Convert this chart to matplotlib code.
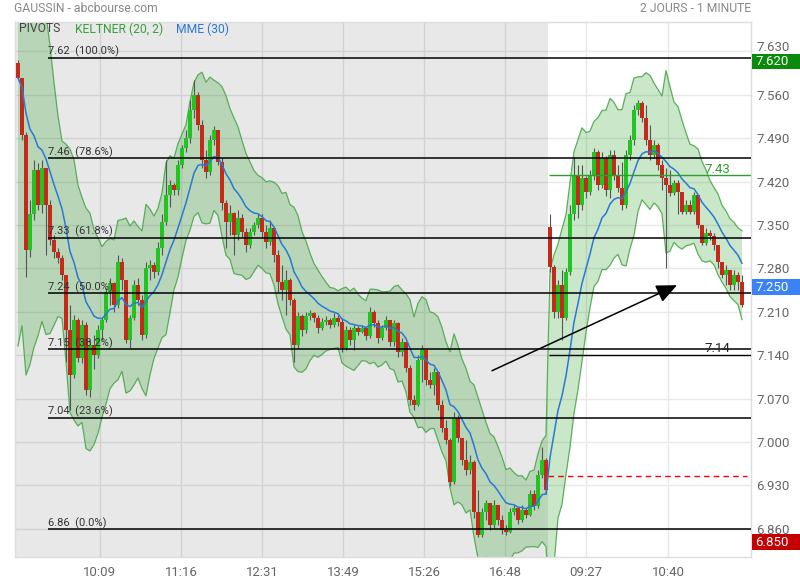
import numpy as np
import pandas as pd
import matplotlib
matplotlib.use('Agg')
import matplotlib.pyplot as plt
from matplotlib import transforms
from matplotlib.patches import Rectangle

plt.rcParams['font.family'] = ['Roboto', 'DejaVu Sans']

# ---------------- data ----------------
title_left = 'GAUSSIN - abcbourse.com'
title_right = '2 JOURS - 1 MINUTE'
legend_labels = ['PIVOTS', 'KELTNER (20, 2)', 'MME (30)']

prev_session_close = 7.40   # close of the session before the chart (sets the first band width)
day1_open0 = 7.612
day1_close = [7.587, 7.496, 7.310, 7.367, 7.439, 7.383, 7.442, 7.383, 7.326, 7.307,
              7.297, 7.270, 7.181, 7.108, 7.197, 7.136, 7.189, 7.084, 7.157, 7.141,
              7.181, 7.197, 7.242, 7.257, 7.221, 7.291, 7.262, 7.165, 7.200, 7.254,
              7.229, 7.173, 7.281, 7.286, 7.275, 7.313, 7.355, 7.399, 7.415, 7.407,
              7.447, 7.474, 7.491, 7.536, 7.560, 7.512, 7.455, 7.436, 7.487, 7.504,
              7.452, 7.386, 7.355, 7.370, 7.334, 7.362, 7.339, 7.318, 7.339, 7.350,
              7.362, 7.339, 7.323, 7.346, 7.302, 7.258, 7.246, 7.262, 7.229, 7.157,
              7.204, 7.181, 7.204, 7.208, 7.200, 7.184, 7.194, 7.197, 7.189, 7.200,
              7.194, 7.152, 7.181, 7.165, 7.184, 7.178, 7.184, 7.171, 7.210, 7.192,
              7.168, 7.184, 7.197, 7.162, 7.192, 7.146, 7.162, 7.120, 7.068, 7.060,
              7.133, 7.149, 7.100, 7.092, 7.113, 7.060, 7.023, 7.004, 6.936, 7.039,
              7.007, 6.971, 6.955, 6.968, 6.887, 6.850, 6.887, 6.902, 6.866, 6.899,
              6.875, 6.858, 6.855, 6.887, 6.894, 6.875, 6.891, 6.883, 6.916, 6.897,
              6.947, 6.971, 6.923]
day1_high = [7.616, 7.536, 7.500, 7.391, 7.455, 7.450, 7.455, 7.439, 7.391, 7.334,
             7.313, 7.302, 7.270, 7.221, 7.205, 7.200, 7.197, 7.194, 7.165, 7.173,
             7.189, 7.200, 7.249, 7.265, 7.258, 7.302, 7.297, 7.262, 7.205, 7.262,
             7.265, 7.237, 7.291, 7.294, 7.291, 7.323, 7.367, 7.455, 7.423, 7.418,
             7.455, 7.479, 7.504, 7.552, 7.584, 7.565, 7.520, 7.471, 7.496, 7.510,
             7.504, 7.458, 7.391, 7.383, 7.371, 7.375, 7.368, 7.346, 7.346, 7.355,
             7.367, 7.367, 7.350, 7.358, 7.342, 7.310, 7.286, 7.278, 7.265, 7.233,
             7.210, 7.207, 7.210, 7.213, 7.210, 7.205, 7.200, 7.204, 7.200, 7.208,
             7.205, 7.200, 7.187, 7.186, 7.189, 7.187, 7.189, 7.187, 7.217, 7.213,
             7.197, 7.189, 7.204, 7.197, 7.197, 7.194, 7.168, 7.157, 7.125, 7.076,
             7.141, 7.157, 7.149, 7.113, 7.120, 7.108, 7.068, 7.036, 7.007, 7.049,
             7.044, 7.004, 7.004, 6.979, 6.971, 6.923, 6.894, 6.907, 6.902, 6.907,
             6.899, 6.883, 6.866, 6.894, 6.899, 6.894, 6.899, 6.894, 6.923, 6.923,
             6.955, 6.992, 6.975]
day1_low = [7.584, 7.487, 7.266, 7.299, 7.358, 7.375, 7.370, 7.302, 7.318, 7.297,
            7.289, 7.262, 7.129, 7.052, 7.104, 7.129, 7.128, 7.076, 7.073, 7.117,
            7.136, 7.165, 7.194, 7.221, 7.210, 7.216, 7.246, 7.160, 7.152, 7.197,
            7.221, 7.165, 7.168, 7.262, 7.265, 7.270, 7.302, 7.350, 7.379, 7.399,
            7.399, 7.442, 7.468, 7.483, 7.523, 7.504, 7.442, 7.426, 7.431, 7.479,
            7.447, 7.375, 7.313, 7.334, 7.302, 7.326, 7.331, 7.307, 7.313, 7.334,
            7.346, 7.329, 7.313, 7.318, 7.291, 7.242, 7.229, 7.205, 7.221, 7.129,
            7.152, 7.171, 7.176, 7.197, 7.194, 7.176, 7.181, 7.189, 7.184, 7.186,
            7.187, 7.146, 7.149, 7.157, 7.149, 7.173, 7.176, 7.165, 7.168, 7.186,
            7.160, 7.165, 7.181, 7.155, 7.155, 7.137, 7.139, 7.113, 7.060, 7.052,
            7.058, 7.097, 7.092, 7.087, 7.076, 7.052, 7.016, 6.996, 6.929, 6.933,
            7.000, 6.963, 6.947, 6.949, 6.878, 6.846, 6.846, 6.875, 6.858, 6.862,
            6.866, 6.852, 6.850, 6.854, 6.883, 6.868, 6.871, 6.878, 6.881, 6.891,
            6.894, 6.942, 6.916]

day2_open0 = 7.347
day2_close = [7.283, 7.210, 7.254, 7.200, 7.275, 7.367, 7.431, 7.383, 7.426, 7.404,
              7.429, 7.468, 7.415, 7.458, 7.407, 7.463, 7.431, 7.410, 7.383, 7.463,
              7.487, 7.536, 7.547, 7.523, 7.487, 7.463, 7.479, 7.447, 7.426, 7.415,
              7.402, 7.418, 7.404, 7.371, 7.383, 7.371, 7.399, 7.350, 7.321, 7.337,
              7.333, 7.318, 7.291, 7.270, 7.278, 7.254, 7.270, 7.258, 7.221]
day2_high = [7.367, 7.286, 7.262, 7.278, 7.281, 7.383, 7.460, 7.447, 7.447, 7.429,
             7.439, 7.474, 7.471, 7.468, 7.462, 7.471, 7.471, 7.447, 7.452, 7.471,
             7.496, 7.544, 7.552, 7.550, 7.544, 7.512, 7.487, 7.483, 7.455, 7.442,
             7.439, 7.423, 7.423, 7.394, 7.391, 7.391, 7.403, 7.399, 7.350, 7.346,
             7.342, 7.337, 7.318, 7.291, 7.286, 7.278, 7.278, 7.275, 7.270]
day2_low = [7.275, 7.200, 7.200, 7.165, 7.197, 7.270, 7.358, 7.362, 7.375, 7.394,
            7.399, 7.423, 7.407, 7.410, 7.397, 7.394, 7.423, 7.404, 7.375, 7.378,
            7.455, 7.479, 7.528, 7.516, 7.479, 7.455, 7.458, 7.439, 7.407, 7.281,
            7.397, 7.399, 7.367, 7.367, 7.367, 7.367, 7.368, 7.346, 7.318, 7.318,
            7.326, 7.310, 7.281, 7.265, 7.254, 7.246, 7.246, 7.246, 7.218]

keltner_n, keltner_mult = 20, 2
mme_n = 30
minutes_per_candle = 2.6   # each drawn candle stands for a few one-minute bars

fib_high, fib_low = 7.62, 6.86
fib_ratios = [1.0, 0.786, 0.618, 0.5, 0.382, 0.236, 0.0]

pivot_values = [7.43, 7.14]
pivot_labels = ['7.43', '7.14']
prev_close = 6.945
tag_values = [7.620, 7.250, 6.850]

y_ticks = [6.860, 6.930, 7.000, 7.070, 7.140, 7.210, 7.280, 7.350, 7.420, 7.490, 7.560, 7.630]
x_tick_pos = [20.5, 40.75, 61, 81.25, 101.5, 121.75, 142, 162.5]
x_tick_labels = ['10:09', '11:16', '12:31', '13:49', '15:26', '16:48', '09:27', '10:40']

arrow_start = (118.5, 7.115)
arrow_end = (164.75, 7.253)

# ---------------- build series ----------------
close = np.array(day1_close + day2_close)
high = np.array(day1_high + day2_high)
low = np.array(day1_low + day2_low)
n1 = len(day1_close)
opn = np.r_[day1_open0, close[:-1]]
opn[n1] = day2_open0
x = np.arange(len(close))

cs = pd.Series(close)
mme = cs.ewm(span=mme_n / minutes_per_candle, adjust=False).mean()
mid = cs.ewm(span=keltner_n / minutes_per_candle, adjust=False).mean()
prev = np.r_[prev_session_close, close[:-1]]
tr = np.maximum.reduce([high - low, np.abs(high - prev), np.abs(low - prev)])
atr = pd.Series(tr).ewm(span=keltner_n / minutes_per_candle, adjust=False).mean()
upper = mid + keltner_mult * atr
lower = mid - keltner_mult * atr

# ---------------- figure ----------------
W, H = 800, 580
fig = plt.figure(figsize=(W / 100, H / 100), dpi=100)
ax = fig.add_axes([14.7 / W, 23.3 / H, (751 - 14.7) / W, 535 / H])
x_left, x_right = -0.82, 183.25
ax.set_xlim(x_left, x_right)
ax.set_ylim(6.815, 7.678)
ax.set_facecolor('white')

# day-1 shading
ax.axvspan(x_left, n1 - 0.5, color='#e8e8e8', lw=0, zorder=0)

# grid
for v in y_ticks:
    ax.hlines(v, x_left, n1 - 0.5, color='#d2d2d2', lw=1, zorder=0.5)
    ax.hlines(v, n1 - 0.5, x_right, color='#e8e8e8', lw=1, zorder=0.5)
for p in x_tick_pos:
    ax.axvline(p, color='#d2d2d2' if p < n1 else '#e8e8e8', lw=1, zorder=0.5)

# Keltner band
ax.fill_between(x, lower, upper, color='#2ca02c', alpha=0.25, lw=0, zorder=1)
ax.plot(x, upper, color='#4aa84a', lw=0.9, alpha=0.9, zorder=1.5)
ax.plot(x, lower, color='#4aa84a', lw=0.9, alpha=0.9, zorder=1.5)

# candles
up = close >= opn
ax.vlines(x, low, high, color='#555555', lw=0.8, zorder=3)
body_bottom = np.minimum(opn, close)
body_h = np.maximum(np.abs(close - opn), 0.0018)
colors = np.where(up, '#22c422', '#c42a1a')
ax.bar(x, body_h, bottom=body_bottom, width=0.8, color=colors, lw=0, zorder=3.5)

# MME
ax.plot(x, mme, color='#2a78d6', lw=1.1, zorder=4)

# Fibonacci pivots
for r in fib_ratios:
    lvl = fib_low + r * (fib_high - fib_low)
    ax.hlines(lvl, 7.5, x_right, color='black', lw=1.1, zorder=4.6)
    ax.annotate(f'{lvl:.2f}  ({r * 100:.1f}%)', (7.5, lvl), xytext=(0, 2),
                textcoords='offset points', fontsize=8, color='#333333',
                va='baseline', ha='left', zorder=5)

# day-2 pivot lines
pivot_colors = ['#2e9e2e', 'black']
pivot_text_colors = ['#2e9e2e', '#222222']
for v, lab, c, tc in zip(pivot_values, pivot_labels, pivot_colors, pivot_text_colors):
    ax.hlines(v, n1 - 0.3, x_right, color=c, lw=1.0, zorder=4.6)
    ax.annotate(lab, (171.5, v), xytext=(0, 2), textcoords='offset points',
                fontsize=9.5, color=tc, va='baseline', ha='left', zorder=5)
ax.hlines(prev_close, n1 - 0.5, 182.25, colors='red', linestyles=(0, (4, 3)), lw=1, zorder=4.6)

# arrow
ax.annotate('', xy=arrow_end, xytext=arrow_start,
            arrowprops=dict(arrowstyle='-|>,head_length=0.9,head_width=0.4',
                            color='black', lw=1.1, mutation_scale=14, shrinkA=0, shrinkB=0),
            zorder=6)

# axes styling
for s in ax.spines.values():
    s.set_color('#dddddd')
    s.set_linewidth(1)
ax.yaxis.tick_right()
ax.set_yticks(y_ticks)
ax.set_yticklabels([f'{v:.3f}' for v in y_ticks])
ax.tick_params(axis='y', length=0, pad=4, labelcolor='#666666', labelsize=9.5)
ax.set_xticks(x_tick_pos)
ax.set_xticklabels(x_tick_labels)
ax.tick_params(axis='x', length=0, pad=7, labelcolor='#666666', labelsize=9.5)

# lift the top tick label a little so it clears the green price tag
top_tick = ax.yaxis.get_major_ticks()[-1]
top_tick.label2.set_transform(top_tick.label2.get_transform() +
                              transforms.ScaledTranslation(0, 5 / 100, fig.dpi_scale_trans))

# price tags on the right
tag_colors = ['#0a8a0a', '#3b82f6', '#c40000']
tag_shift_px = [-4, 0, -7]
for v, c, dpx in zip(tag_values, tag_colors, tag_shift_px):
    tr_ = transforms.blended_transform_factory(fig.transFigure, ax.transData) + \
        transforms.ScaledTranslation(0, dpx / 100, fig.dpi_scale_trans)
    ax.add_patch(Rectangle((752 / W, v - 0.0125), 48 / W, 0.025, transform=tr_,
                           facecolor=c, edgecolor='none', clip_on=False, zorder=10))
    ax.text(755.5 / W, v, f'{v:.3f}', transform=tr_, color='white', fontsize=9.5,
            va='center', ha='left', clip_on=False, zorder=11)

# header and legend
fig.text(14 / W, 1 - 9 / H, title_left, fontsize=8.7, color='#888888', va='center', ha='left')
fig.text(751 / W, 1 - 9 / H, title_right, fontsize=8.7, color='#888888', va='center', ha='right')
legend_colors = ['#444444', '#3a9e3a', '#2a78d6']
legend_x = [19, 75, 176]
for lab, c, lx in zip(legend_labels, legend_colors, legend_x):
    fig.text(lx / W, 1 - 29 / H, lab, fontsize=8.7, color=c, va='center', ha='left')

fig.savefig('out.png', dpi=100)
